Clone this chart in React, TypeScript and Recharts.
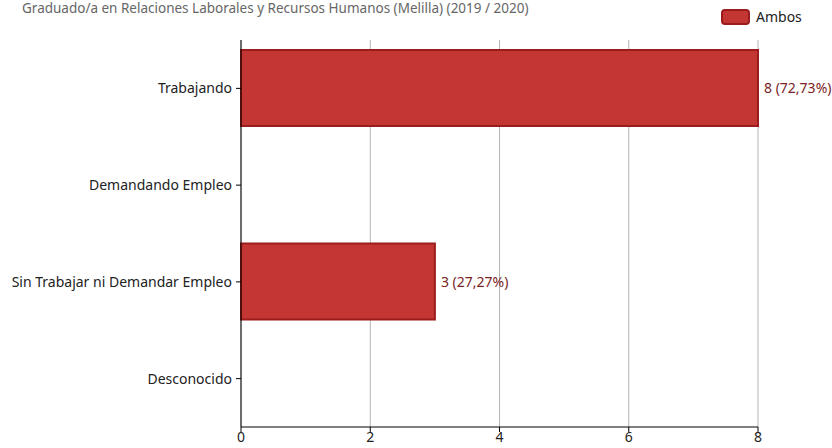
import React from "react";
import { BarChart, Bar, XAxis, YAxis, CartesianGrid, LabelList } from "recharts";

const categories = ["Trabajando", "Demandando Empleo", "Sin Trabajar ni Demandar Empleo", "Desconocido"];
const values = [8, 0, 3, 0];
const percents = ["72,73%", "", "27,27%", ""];
const xTicks = [0, 2, 4, 6, 8];
const seriesName = "Ambos";
const title = "Graduado/a en Relaciones Laborales y Recursos Humanos (Melilla) (2019 / 2020)";

const data = categories.map((c, i) => ({
  name: c,
  value: values[i] === 0 ? null : values[i],
  label: values[i] === 0 ? "" : `${values[i]} (${percents[i]})`,
}));

const FONT = "'Noto Sans', 'DejaVu Sans', sans-serif";

const renderLabel = (props: any) => {
  const { x, y, width, height, value } = props;
  if (!value) return null;
  return (
    <text x={x + width + 6} y={y + height / 2} dy={5} fill="#7a2424" fontSize={14} fontFamily={FONT}>
      {value}
    </text>
  );
};

export default function App() {
  return (
    <div style={{ position: "absolute", left: 0, top: 0, width: 832, height: 448, overflow: "hidden", background: "#fff" }}>
      <div style={{ position: "absolute", left: 22, top: 0, fontFamily: FONT, fontSize: 13.5, color: "#666", whiteSpace: "nowrap", lineHeight: "17px" }}>{title}</div>
      <div style={{ position: "absolute", left: 721, top: 9, display: "flex", alignItems: "center", fontFamily: FONT, fontSize: 14, color: "#222", lineHeight: "16px" }}>
        <div style={{ width: 29, height: 16, background: "#c43633", border: "2px solid #9b1c1c", borderRadius: 4, boxSizing: "border-box", marginRight: 6 }} />
        <span>{seriesName}</span>
      </div>
      <BarChart width={832} height={448} data={data} layout="vertical" margin={{ top: 40, right: 74, bottom: 0, left: 0 }}>
        <CartesianGrid horizontal={false} stroke="#b4b4b4" />
        <XAxis type="number" domain={[0, 8]} ticks={xTicks} interval={0} stroke="#000" tick={{ fill: "#222", fontSize: 14, fontFamily: FONT }} tickSize={5} tickMargin={0} height={21} />
        <YAxis type="category" dataKey="name" width={241} stroke="#000" tick={{ fill: "#222", fontSize: 14, fontFamily: FONT }} tickSize={5} tickMargin={4} />
        <Bar dataKey="value" name={seriesName} fill="#c43633" stroke="#9b1c1c" strokeWidth={2} barSize={76} isAnimationActive={false}>
          <LabelList dataKey="label" content={renderLabel} />
        </Bar>
      </BarChart>
    </div>
  );
}
